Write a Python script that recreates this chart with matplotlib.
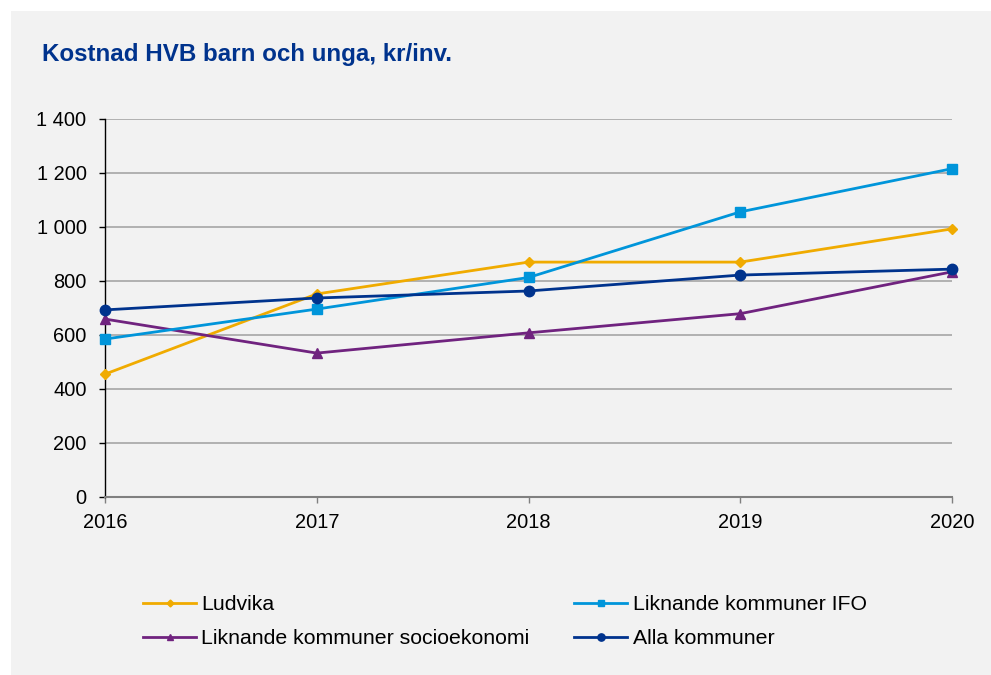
import matplotlib.pyplot as plt
from matplotlib.patches import Rectangle
from matplotlib.ticker import FuncFormatter

plt.rcParams['font.family'] = ['Liberation Sans', 'DejaVu Sans']

# data
years = [2016, 2017, 2018, 2019, 2020]
ludvika = [455, 752, 870, 870, 993]
ifo = [585, 696, 813, 1056, 1216]
socio = [659, 533, 608, 679, 834]
alla = [693, 737, 763, 822, 844]

fig = plt.figure(figsize=(9.91, 6.75), dpi=100)
fig.patch.set_facecolor('white')
# gray panel behind everything
fig.patches.append(Rectangle((11 / 991, 0), 1, 1 - 11 / 675, transform=fig.transFigure,
                             facecolor='#f2f2f2', edgecolor='none', zorder=-10))

ax = fig.add_axes([105 / 991, 1 - 497 / 675, (952 - 105) / 991, (497 - 119) / 675])
ax.set_facecolor('none')

ax.plot(years, ludvika, color='#f0ab00', lw=2, marker='D', ms=5, label='Ludvika', zorder=3, clip_on=False)
ax.plot(years, socio, color='#70237f', lw=2, marker='^', ms=7, label='Liknande kommuner socioekonomi', zorder=3, clip_on=False)
ax.plot(years, ifo, color='#0095da', lw=2, marker='s', ms=7, label='Liknande kommuner IFO', zorder=3, clip_on=False)
ax.plot(years, alla, color='#00338d', lw=2, marker='o', ms=7.5, label='Alla kommuner', zorder=3, clip_on=False)

ax.set_xlim(2016, 2020)
ax.set_ylim(0, 1400)
ax.set_xticks(years)
ax.set_yticks(range(0, 1401, 200))
ax.yaxis.set_major_formatter(FuncFormatter(lambda v, p: f'{int(v):,}'.replace(',', ' ')))
ax.grid(axis='y', color='#a6a6a6', lw=1.2)
ax.set_axisbelow(True)

for s in ['top', 'right']:
    ax.spines[s].set_visible(False)
ax.spines['left'].set_color('black')
ax.spines['left'].set_linewidth(1)
ax.spines['bottom'].set_color('#808080')
ax.spines['bottom'].set_linewidth(1.5)

ax.tick_params(axis='y', length=4.3, width=1, color='black', labelsize=14.4, pad=9)
ax.tick_params(axis='x', length=4.3, width=1, color='#808080', labelsize=14.4, pad=7)

fig.text(42 / 991, 1 - 55 / 675, 'Kostnad HVB barn och unga, kr/inv.', color='#00338d',
         fontsize=17.4, fontweight='bold', va='center', ha='left')

leg = fig.legend(loc='upper left', bbox_to_anchor=(126 / 991, 1 - 578 / 675), ncol=2,
                 frameon=False, fontsize=15.3, handlelength=2.5, handletextpad=0.25,
                 columnspacing=2.1, labelspacing=0.72, markerscale=0.7, borderpad=0.3)

fig.savefig('out.png', dpi=100, facecolor=fig.get_facecolor())
